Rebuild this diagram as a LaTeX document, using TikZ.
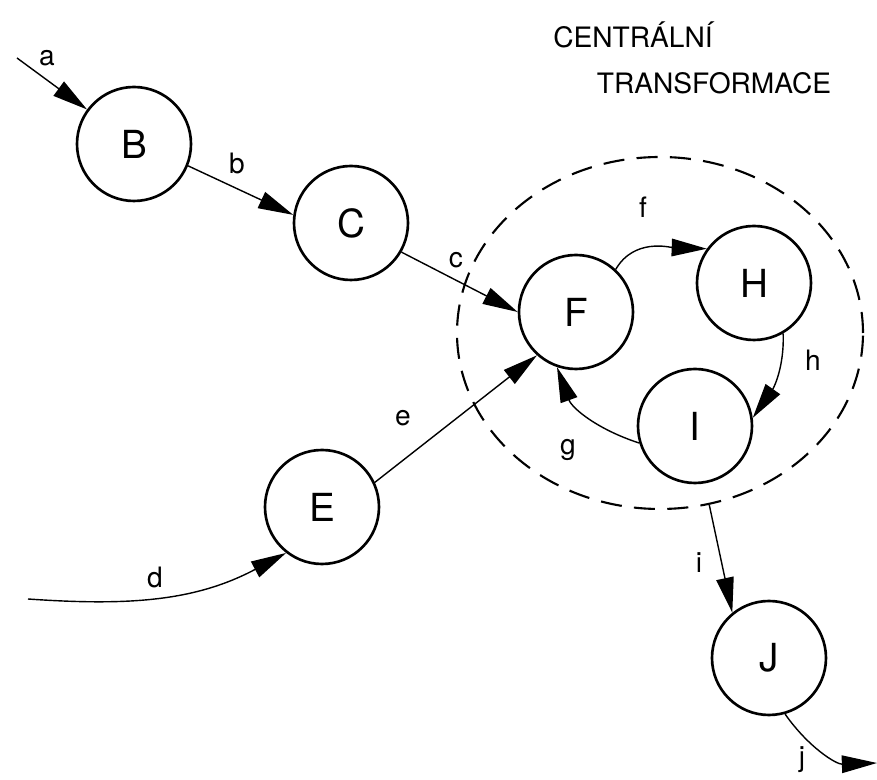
\documentclass[tikz,border=0pt]{standalone}
\usepackage{fontspec}
\setmainfont{TeX Gyre Heros}
\usetikzlibrary{shapes, arrows.meta, positioning}

\begin{document}
\begin{tikzpicture}[
	stage/.style={circle, draw, line width=1.5pt, minimum size=2.28cm, inner sep=0pt, font=\fontsize{22}{22}\selectfont},
	zone/.style={ellipse, draw, dash pattern=on 12pt off 7pt, line width=1.2pt, minimum width=8.12cm, minimum height=7.04cm, inner sep=0pt},
	arrow/.style={-{Triangle[length=20pt, width=10pt]}, line width=0.8pt},
	lbl/.style={font=\fontsize{16}{16}\selectfont, inner sep=0pt},
	title/.style={font=\fontsize{16}{16}\selectfont, inner sep=0pt}
	]
	\useasboundingbox (0,0) rectangle (17.54,-15.6);
	
	% Zone centrale
	\node[zone] (centr) at (13.2,-6.66) {};
	\node[title] (title1) at (12.66,-0.70) {CENTRÁLNÍ};
	\node[title] (title2) at (14.28,-1.66) {TRANSFORMACE};
	
	% Etats
	\node[stage] (B) at (2.68,-2.88) {B};
	\node[stage] (C) at (7.02,-4.46) {C};
	\node[stage] (E) at (6.44,-10.14) {E};
	\node[stage] (F) at (11.52,-6.24) {F};
	\node[stage] (H) at (15.08,-5.66) {H};
	\node[stage] (I) at (13.90,-8.52) {I};
	\node[stage] (J) at (15.38,-13.16) {J};
	
	% Entrees / sorties libres
	\coordinate (a-in) at (0.34,-1.16);
	\coordinate (d-in) at (0.56,-11.98);
	\coordinate (j-out) at (17.54,-15.26);
	
	% Connexions
	\draw[arrow] (a-in) -- (B);
	\draw[arrow] (B.-22) -- (C.172);
	\draw[arrow] (C.-30) -- (F.180);
	\draw[arrow] (d-in) to[out=-4, in=208] (E.232);
	\draw[arrow] (E.25) -- (F.228);
	\draw[arrow] (F.47) to[out=60, in=178] (H.144);
	\draw[arrow] (H.-60) to[out=-88, in=55] (I.8);
	\draw[arrow] (I.197) to[out=162, in=-70] (F.251);
	\draw[arrow] (centr.-74) -- (J.129);
	\draw[arrow] (J.-74) to[out=-55, in=182] (j-out);
	
	% Etiquettes
	\node[lbl] (lab-a) at (0.94,-1.16) {a};
	\node[lbl] (lab-b) at (4.74,-3.26) {b};
	\node[lbl] (lab-c) at (9.12,-5.20) {c};
	\node[lbl] (lab-d) at (3.10,-11.54) {d};
	\node[lbl] (lab-e) at (8.06,-8.36) {e};
	\node[lbl] (lab-f) at (12.86,-4.14) {f};
	\node[lbl] (lab-g) at (11.36,-9.00) {g};
	\node[lbl] (lab-h) at (16.26,-7.20) {h};
	\node[lbl] (lab-i) at (13.98,-11.26) {i};
	\node[lbl] (lab-j) at (16.04,-15.20) {j};
	
\end{tikzpicture}
\end{document}
